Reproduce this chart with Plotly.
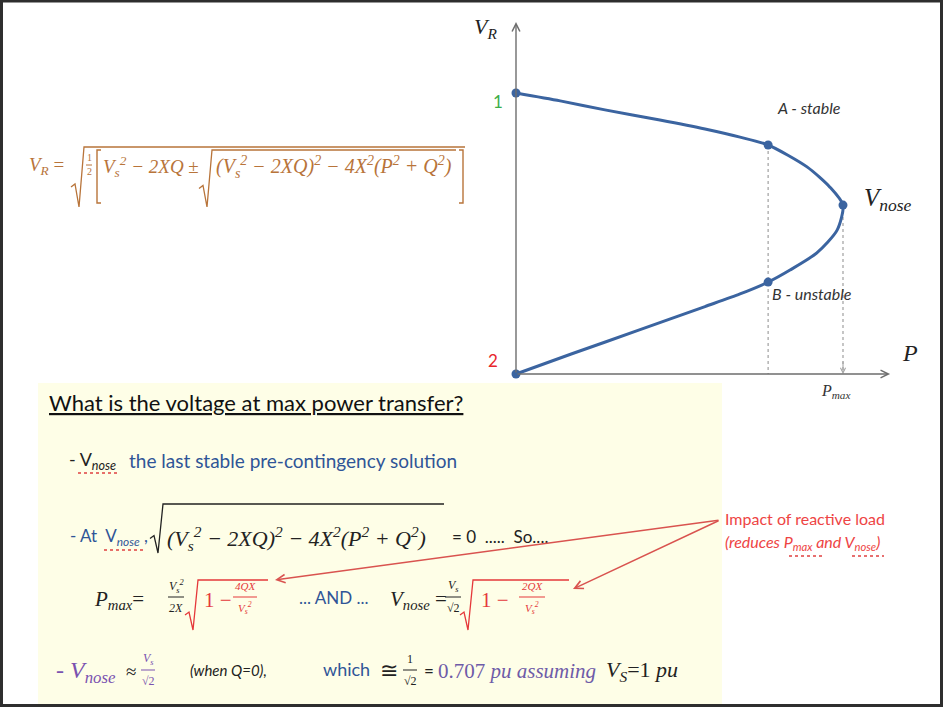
import plotly.graph_objects as go

W, H = 943, 707

# nose (P-V) curve: P in units of Pmax, V_R in pu
p_upper = [0.0, 0.135, 0.272, 0.440, 0.578, 0.685, 0.771, 0.890, 0.960, 1.0]
v_upper = [1.0, 0.972, 0.940, 0.904, 0.872, 0.843, 0.815, 0.737, 0.665, 0.601]
p_lower = [1.0, 0.982, 0.920, 0.838, 0.771, 0.685, 0.578, 0.373, 0.171, 0.0]
v_lower = [0.601, 0.512, 0.431, 0.370, 0.327, 0.285, 0.240, 0.155, 0.072, 0.0]

# marked points: 1, A (stable), nose, B (unstable), 2
pt_names = ["1", "A", "nose", "B", "2"]
pt_p = [0.0, 0.771, 1.0, 0.771, 0.0]
pt_v = [1.0, 0.815, 0.601, 0.327, 0.0]

p_axis_end = 1.144
v_axis_end = 1.253

SERIF = "Liberation Serif"
SANS = "Lato"
BROWN = "#B8743A"
BLUE = "#2F5597"
RED = "#E5393B"
PURPLE = "#7A52B0"
CURVE = "#3B64A0"

anns = []
shapes = []


def px(x):
    return x / W


def py(y):
    return 1 - y / H


def txt(x, y, s, size=16, color="#222", font=SANS, xanchor="left"):
    anns.append(dict(x=px(x), y=py(y), xref="paper", yref="paper", text=s, showarrow=False,
                     font=dict(size=size, color=color, family=font), xanchor=xanchor, yanchor="middle"))


def hline(x0, x1, y, color, w=1.2, dash="solid"):
    shapes.append(dict(type="line", xref="paper", yref="paper", x0=px(x0), x1=px(x1), y0=py(y), y1=py(y),
                       line=dict(color=color, width=w, dash=dash)))


def squiggle(x0, x1, y):
    hline(x0, x1, y, "#E04040", 1.3, "dot")


def frac(xc, y, num, den, half, color, size=12, font=SERIF, gap=11):
    txt(xc, y - gap, num, size, color, font, "center")
    txt(xc, y + gap, den, size, color, font, "center")
    hline(xc - half, xc + half, y, color, 1)


def radical(xt, x1, ytop, ybot, color, w=1.3):
    ym = (ytop + ybot) / 2 + 8
    path = "M {},{} L {},{} L {},{} L {},{} L {},{}".format(
        px(xt - 13), py(ym + 2), px(xt - 9), py(ym - 1), px(xt - 5), py(ybot),
        px(xt), py(ytop), px(x1), py(ytop))
    shapes.append(dict(type="path", xref="paper", yref="paper", path=path,
                       line=dict(color=color, width=w)))


def bracket(x, xin, y0, y1, color):
    path = "M {},{} L {},{} L {},{} L {},{}".format(px(xin), py(y0), px(x), py(y0),
                                                     px(x), py(y1), px(xin), py(y1))
    shapes.append(dict(type="path", xref="paper", yref="paper", path=path, line=dict(color=color, width=1.4)))


fig = go.Figure()

# drop lines from A and the nose down to the P axis
fig.add_trace(go.Scatter(x=[pt_p[1], pt_p[1]], y=[pt_v[1], 0], mode="lines",
                         line=dict(color="#A0A0A0", width=1.2, dash="dot"), hoverinfo="skip"))
fig.add_trace(go.Scatter(x=[pt_p[2], pt_p[2]], y=[pt_v[2], 0], mode="lines",
                         line=dict(color="#A0A0A0", width=1.2, dash="dot"), hoverinfo="skip"))

fig.add_trace(go.Scatter(x=p_upper + p_lower[1:], y=v_upper + v_lower[1:], mode="lines",
                         line=dict(color=CURVE, width=3, shape="spline", smoothing=0.7)))
fig.add_trace(go.Scatter(x=pt_p, y=pt_v, mode="markers", text=pt_names,
                         marker=dict(color=CURVE, size=9)))

# axes drawn as arrows
for x, y in [(0, v_axis_end), (p_axis_end, 0)]:
    anns.append(dict(x=x, y=y, ax=0, ay=0, xref="x", yref="y", axref="x", ayref="y", text="",
                     showarrow=True, arrowhead=5, arrowsize=1.1, arrowwidth=1.4, arrowcolor="#6E6E6E"))
anns.append(dict(x=pt_p[2], y=0, ax=pt_p[2], ay=0.05, xref="x", yref="y", axref="x", ayref="y",
                 text="", showarrow=True, arrowhead=5, arrowsize=1, arrowwidth=1, arrowcolor="#A0A0A0"))

# yellow panel and slide frame
shapes.append(dict(type="rect", xref="paper", yref="paper", x0=px(38), x1=px(722), y0=py(704), y1=py(383),
                   fillcolor="#FEFEE7", line=dict(width=0), layer="below"))
shapes.append(dict(type="rect", xref="paper", yref="paper", x0=px(1.5), x1=px(941.5), y0=py(705.5), y1=py(1),
                   line=dict(color="#2E2E2E", width=3)))

# graph labels
txt(485, 28, "<i>V<sub>R</sub></i>", 22, "#222", SERIF, "center")
txt(910, 353, "<i>P</i>", 24, "#222", SERIF, "center")
txt(835, 391, "<i>P<sub>max</sub></i>", 16, "#333", SERIF, "center")
txt(498, 102, "1", 17, "#3DAE49", SANS, "center")
txt(493, 360, "2", 17, "#E8262B", SANS, "center")
txt(775, 108, "<i>A - stable</i>", 16, "#333", SANS)
txt(770, 294, "<i>B - unstable</i>", 16, "#333", SANS)
txt(862, 199, "<i>V<sub>nose</sub></i>", 25, "#222", SERIF)

# top-left formula
txt(27, 166, "<i>V<sub>R</sub></i> =", 19, BROWN, SERIF)
radical(84, 465, 147, 207, BROWN)
frac(89, 165, "1", "2", 3, BROWN, 10, gap=7)
bracket(97, 101, 150, 203, BROWN)
bracket(463, 459, 150, 203, BROWN)
txt(101, 166, "<i>V<sub>s</sub><sup>2</sup> − 2XQ</i> ±", 19, BROWN, SERIF)
radical(212, 456, 150, 207, BROWN)
txt(214, 167, "<i>(V<sub>s</sub><sup>2</sup> − 2XQ)<sup>2</sup> − 4X<sup>2</sup>(P<sup>2</sup> + Q<sup>2</sup>)</i>",
    20, BROWN, SERIF)

# yellow panel text
txt(47, 402, "<u>What is the voltage at max power transfer?</u>", 22, "#111", SANS)
txt(67, 460, "- V<sub><i>nose</i></sub>", 18, "#222", SANS)
squiggle(78, 120, 473)
txt(127, 460, "the last stable pre-contingency solution", 19, BLUE, SANS)

txt(68, 537, "- At  V<sub><i>nose</i></sub> ,", 17, BLUE, SANS)
squiggle(104, 145, 550)
radical(163, 444, 504, 553, "#222")
txt(165, 538, "<i>(V<sub>s</sub><sup>2</sup> − 2XQ)<sup>2</sup> − 4X<sup>2</sup>(P<sup>2</sup> + Q<sup>2</sup>)</i>",
    22, "#222", SERIF)
txt(450, 536, "= 0  .....  So....", 17, "#222", SANS)

txt(92, 600, "<i>P<sub>max</sub></i>=", 21, "#222", SERIF)
frac(176, 597, "<i>V<sub>s</sub><sup>2</sup></i>", "<i>2X</i>", 8, "#222")
radical(198, 268, 580, 630, RED)
txt(202, 600, "1 −", 21, RED, SERIF)
frac(245, 597, "<i>4QX</i>", "<i>V<sub>s</sub><sup>2</sup></i>", 12, RED, 11)
txt(297, 597, "... AND ...", 17, BLUE, SANS)
txt(388, 600, "<i>V<sub>nose</sub></i> =", 21, "#222", SERIF)
frac(453, 597, "<i>V<sub>s</sub></i>", "√2", 8, "#222")
radical(473, 569, 580, 630, RED)
txt(479, 600, "1 −", 21, RED, SERIF)
frac(532, 597, "<i>2QX</i>", "<i>V<sub>s</sub><sup>2</sup></i>", 13, RED, 11)

txt(54, 672, "- <i>V<sub>nose</sub></i>", 24, PURPLE, SERIF)
txt(124, 671, "≈", 19, "#222", SERIF)
frac(148, 670, "<i>V<sub>s</sub></i>", "√2", 7, PURPLE)
txt(188, 670, "<i>(when Q=0),</i>", 15, "#222", SANS)
txt(321, 669, "which", 18, BLUE, SANS)
txt(378, 670, "≅", 22, "#222", SERIF)
frac(410, 670, "1", "√2", 7, "#222")
txt(422, 670, "=", 17, "#222", SANS)
txt(436, 671, "0.707 <i>pu assuming</i>", 21, "#6E5BA8", SERIF)
txt(604, 671, "<i>V<sub>S</sub></i>=1 <i>pu</i>", 22, "#222", SERIF)

# reactive-load note with arrows
txt(723, 518, "Impact of reactive load", 16, "#EE4444", SANS)
txt(723, 542, "<i>(reduces P<sub>max</sub> and V<sub>nose</sub>)</i>", 16, "#EE4444", SANS)
squiggle(789, 822, 556)
squiggle(852, 884, 556)
for hx, hy in [(275, 580), (573, 589)]:
    anns.append(dict(x=px(hx), y=py(hy), xref="paper", yref="paper", ax=720 - hx, ay=520 - hy, text="",
                     showarrow=True, arrowhead=5, arrowsize=1.1, arrowwidth=1.5, arrowcolor="#D9534F"))

fig.update_layout(
    width=W, height=H, margin=dict(l=0, r=0, t=0, b=0),
    paper_bgcolor="white", plot_bgcolor="rgba(0,0,0,0)", showlegend=False,
    xaxis=dict(range=[-516 / 327, (W - 516) / 327], visible=False, fixedrange=True),
    yaxis=dict(range=[-(H - 374) / 281, 374 / 281], visible=False, fixedrange=True),
    annotations=anns, shapes=shapes,
)

fig.write_html("out.html", config={"displayModeBar": False},
               post_script="document.body.style.margin='0';document.body.style.overflow='hidden';")
